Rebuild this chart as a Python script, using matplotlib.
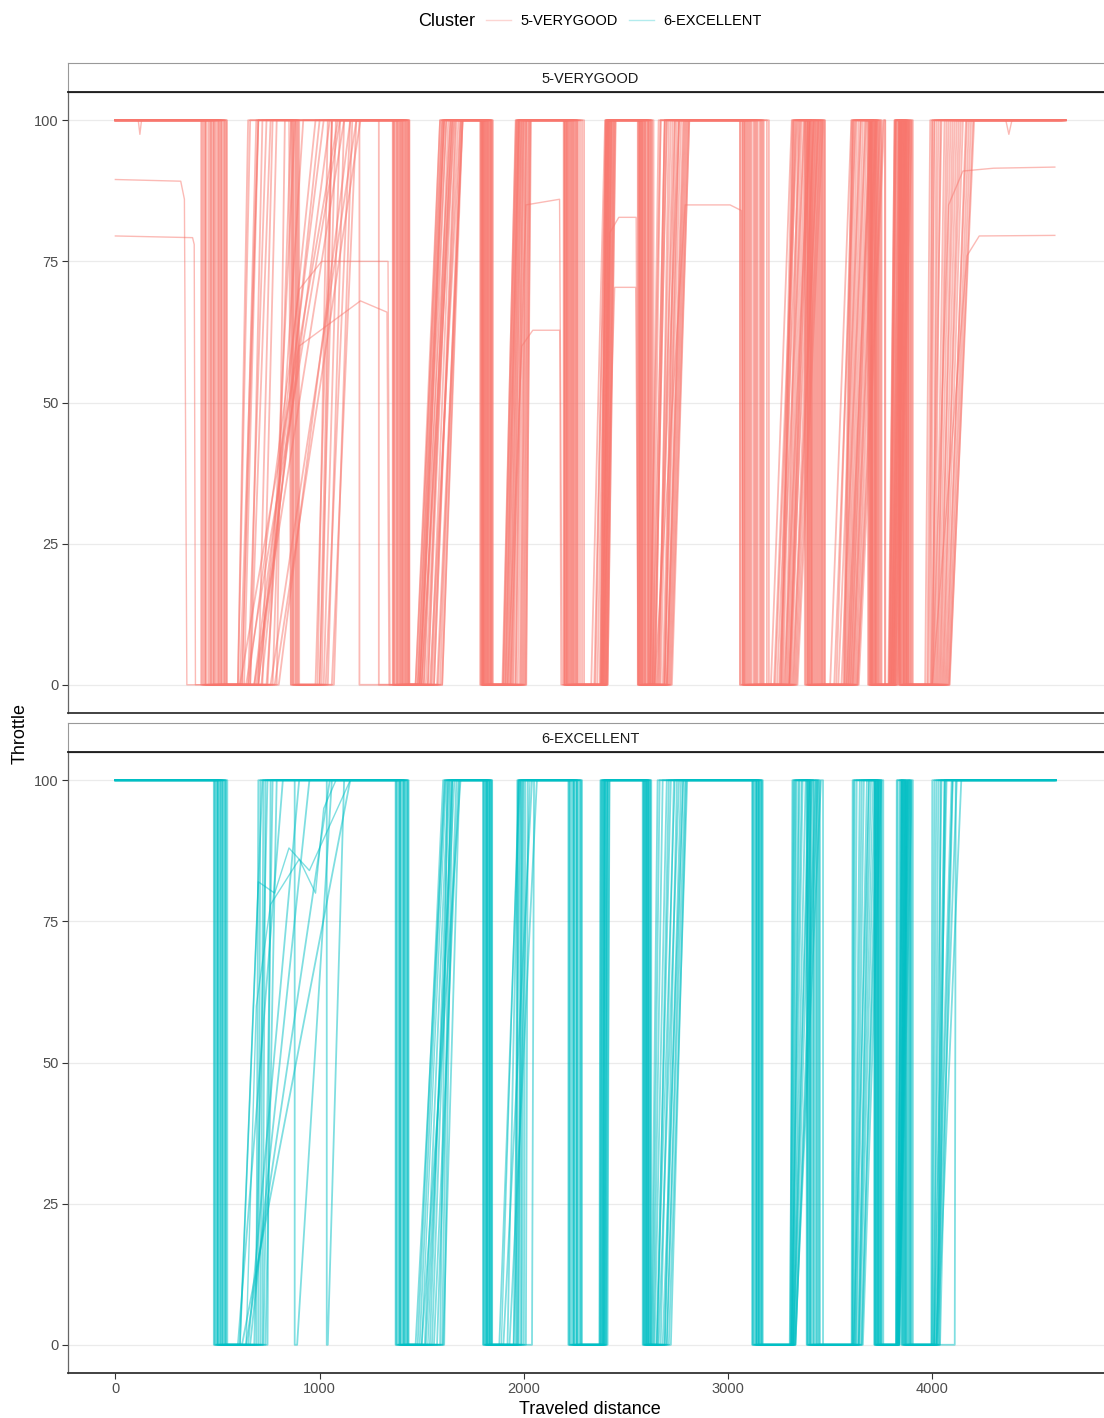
import matplotlib.pyplot as plt
from matplotlib.lines import Line2D

plt.rcParams['font.family'] = ['Liberation Sans', 'DejaVu Sans']

# cluster colours (ggplot hue palette)
clusters = ['5-VERYGOOD', '6-EXCELLENT']
colors = ['#F8766D', '#00BFC4']

# ---- 5-VERYGOOD laps: one row per braking zone, one column per lap ----
# zone order: T1, T1 chicane (None = lap skips it), T2 ... T9
vg_brake = [
    [420, 432, 445, 455, 462, 470, 478, 485, 492, 500, 508, 515, 522, 530, 538, 546, 426, 440, 468, 482, 505, 518, 534, 544],
    [860, None, 872, None, 880, None, None, None, 895, None, 865, None, None, None, None, None, 885, None, 870, None, 890, None, 900, None],
    [1360, 1372, 1380, 1390, 1398, 1405, 1412, 1420, 1428, 1436, 1365, 1385, 1402, 1418, 1432, 1440, 1358, 1195, 1378, 1394, 1408, 1290, 1425, 1438],
    [1790, 1798, 1805, 1812, 1820, 1828, 1835, 1842, 1848, 1795, 1808, 1816, 1824, 1832, 1840, 1802, 1786, 1793, 1800, 1810, 1826, 1838, 1846, 1818],
    [2195, 2205, 2212, 2220, 2228, 2235, 2242, 2250, 2258, 2265, 2200, 2215, 2230, 2245, 2255, 2208, 2198, 2222, 2238, 2262, 2275, 2285, 2295, 2210],
    [2560, 2568, 2575, 2582, 2590, 2598, 2605, 2612, 2620, 2628, 2565, 2578, 2592, 2608, 2618, 2572, 2558, 2570, 2585, 2595, 2610, 2625, 2635, 2580],
    [3060, 3075, 3085, 3095, 3105, 3115, 3125, 3135, 3145, 3155, 3165, 3175, 3070, 3100, 3130, 3160, 3058, 3080, 3110, 3140, 3170, 3190, 3200, 3090],
    [3385, 3395, 3405, 3415, 3425, 3440, 3450, 3460, 3472, 3390, 3410, 3435, 3455, 3400, 3420, 3468, 3376, 3400, 3410, 3430, 3445, 3462, 3475, 3380],
    [3690, 3700, 3705, 3712, 3720, 3728, 3735, 3752, 3768, 3695, 3710, 3725, 3742, 3702, 3718, 3738, 3685, 3698, 3706, 3722, 3730, 3748, 3770, 3692],
    [3835, 3845, 3855, 3862, 3870, 3878, 3885, 3895, 3905, 3840, 3858, 3875, 3892, 3848, 3866, 3882, 3838, 3850, 3860, 3868, 3874, 3884, 3900, 3842],
]
vg_pickup = [
    [600, 640, 610, 700, 650, 760, 620, 690, 720, 780, 660, 740, 800, 700, 770, 680, 630, 680, 600, 745, 660, 715, 790, 610],
    [1000, None, 1030, None, 1010, None, None, None, 1060, None, 990, None, None, None, None, None, 1040, None, 1020, None, 1070, None, 980, None],
    [1470, 1500, 1480, 1540, 1490, 1580, 1510, 1560, 1470, 1600, 1520, 1490, 1550, 1530, 1590, 1510, 1480, 1575, 1495, 1530, 1600, 1485, 1560, 1545],
    [1900, 1940, 1910, 1980, 1920, 2000, 1960, 1930, 2010, 1950, 1990, 1905, 1970, 1935, 2005, 1925, 1895, 1915, 1945, 1960, 1985, 1995, 2012, 1898],
    [2375, 2380, 2385, 2390, 2395, 2400, 2405, 2410, 2378, 2388, 2398, 2408, 2382, 2392, 2402, 2386, 2330, 2345, 2360, 2372, 2395, 2405, 2410, 2350],
    [2620, 2650, 2640, 2700, 2660, 2720, 2680, 2690, 2700, 2710, 2630, 2670, 2690, 2705, 2715, 2645, 2615, 2635, 2655, 2665, 2685, 2700, 2725, 2640],
    [3255, 3270, 3280, 3290, 3300, 3310, 3320, 3330, 3340, 3265, 3285, 3305, 3325, 3260, 3295, 3335, 3210, 3225, 3240, 3250, 3275, 3300, 3315, 3230],
    [3565, 3575, 3585, 3595, 3605, 3615, 3625, 3635, 3640, 3570, 3590, 3610, 3630, 3580, 3600, 3620, 3500, 3520, 3540, 3555, 3590, 3610, 3633, 3530],
    [3790, 3795, 3800, 3805, 3810, 3815, 3820, 3825, 3830, 3792, 3802, 3812, 3822, 3798, 3808, 3818, 3785, 3790, 3800, 3806, 3812, 3818, 3830, 3788],
    [3990, 4000, 4015, 4030, 4045, 4060, 4075, 4085, 4010, 4025, 4040, 4055, 4070, 4005, 4035, 4080, 3965, 3980, 3995, 4020, 4050, 4065, 4083, 3975],
]
vg_full = [
    [660, 1100, 700, 980, 740, 1180, 690, 1050, 790, 1200, 760, 920, 1150, 770, 860, 1020, 700, 1120, 650, 880, 720, 1000, 830, 1090],
    [1080, None, 1150, None, 1060, None, None, None, 1180, None, 1040, None, None, None, None, None, 1120, None, 1100, None, 1160, None, 1060, None],
    [1600, 1660, 1610, 1690, 1620, 1700, 1640, 1670, 1590, 1700, 1650, 1610, 1680, 1630, 1690, 1620, 1590, 1700, 1605, 1645, 1695, 1600, 1665, 1655],
    [1965, 1990, 1970, 2010, 1975, 2025, 2000, 1985, 2035, 1995, 2015, 1968, 2005, 1980, 2030, 1978, 1962, 1975, 1988, 1998, 2012, 2022, 2032, 1960],
    [2400, 2410, 2415, 2420, 2425, 2430, 2440, 2448, 2405, 2418, 2428, 2445, 2412, 2422, 2435, 2416, 2398, 2405, 2412, 2408, 2430, 2440, 2450, 2402],
    [2660, 2760, 2700, 2790, 2720, 2810, 2750, 2740, 2780, 2800, 2670, 2730, 2770, 2795, 2805, 2690, 2670, 2690, 2740, 2710, 2760, 2785, 2810, 2700],
    [3315, 3330, 3345, 3360, 3380, 3400, 3420, 3440, 3465, 3320, 3350, 3390, 3430, 3325, 3370, 3455, 3312, 3335, 3355, 3375, 3400, 3420, 3445, 3340],
    [3605, 3620, 3640, 3660, 3680, 3700, 3720, 3745, 3765, 3610, 3650, 3690, 3730, 3630, 3670, 3710, 3604, 3625, 3650, 3675, 3695, 3725, 3760, 3615],
    [3815, 3825, 3835, 3845, 3855, 3865, 3875, 3888, 3900, 3820, 3840, 3860, 3880, 3830, 3850, 3870, 3816, 3822, 3838, 3848, 3858, 3868, 3890, 3818],
    [4000, 4030, 4060, 4090, 4120, 4150, 4180, 4200, 4040, 4070, 4100, 4130, 4165, 4020, 4110, 4190, 3990, 4010, 4045, 4080, 4140, 4170, 4205, 4000],
]
vg_end = [4655, 4640, 4650, 4630, 4655, 4645, 4620, 4650, 4635, 4655, 4640, 4625, 4650, 4645, 4630, 4655,
          4645, 4655, 4630, 4650, 4640, 4655, 4635, 4650]

# laps with part-throttle stretches
vg_lap_a_x = [0, 320, 338, 350, 650, 900, 1010, 1335, 1345, 1490, 1640, 1795, 1803, 1935, 2010, 2175,
              2188, 2385, 2445, 2548, 2560, 2640, 2790, 3010, 3065, 3075, 3300, 3390, 3392, 3600, 3700,
              3715, 3720, 3810, 3850, 3870, 3875, 4000, 4080, 4150, 4300, 4600]
vg_lap_a_y = [89.5, 89.2, 86, 0, 0, 70, 75, 75, 0, 0, 100, 100, 0, 0, 85, 86,
              0, 0, 70.4, 70.4, 0, 0, 85, 85, 84, 0, 0, 100, 0, 0, 100,
              100, 0, 0, 100, 100, 0, 0, 85, 91, 91.5, 91.7]
vg_lap_b_x = [0, 378, 386, 392, 700, 900, 1200, 1330, 1340, 1500, 1650, 1790, 1796, 1920, 1990, 2044,
              2176, 2182, 2380, 2420, 2465, 2550, 2560, 2690, 2760, 3080, 3081, 3300, 3400, 3410, 3580,
              3700, 3710, 3800, 3850, 3860, 4000, 4170, 4230, 4600]
vg_lap_b_y = [79.5, 79.2, 78, 0, 0, 60, 68, 66, 0, 0, 100, 100, 0, 0, 60, 62.8,
              62.8, 0, 0, 80, 82.8, 82.8, 0, 0, 100, 100, 0, 0, 100, 0, 0,
              100, 0, 0, 100, 0, 0, 76, 79.5, 79.6]
vg_lap_c_x = [0, 112, 120, 128, 440, 440, 620, 700, 850, 858, 1000, 1060, 1365, 1365, 1500, 1610,
              1800, 1800, 1910, 1975, 2200, 2200, 2378, 2402, 2565, 2565, 2630, 2690, 3070, 3070, 3260,
              3320, 3390, 3390, 3570, 3612, 3700, 3700, 3795, 3822, 3842, 3842, 3995, 4010, 4360,
              4375, 4390, 4650]
vg_lap_c_y = [100, 100, 97.5, 100, 100, 0, 0, 100, 100, 0, 0, 100, 100, 0, 0, 100,
              100, 0, 0, 100, 100, 0, 0, 100, 100, 0, 0, 100, 100, 0, 0,
              100, 100, 0, 0, 100, 100, 0, 0, 100, 100, 0, 0, 100, 100,
              97.5, 100, 100]

# ---- 6-EXCELLENT laps ----
ex_brake = [
    [482, 490, 497, 505, 512, 520, 527, 535, 542, 548, 486, 502, 516, 538],
    [None, None, 878, None, None, None, None, 1035, None, None, None, None, None, None],
    [1372, 1380, 1388, 1395, 1402, 1410, 1418, 1425, 1432, 1436, 1375, 1392, 1415, 1430],
    [1800, 1806, 1812, 1818, 1824, 1830, 1836, 1840, 1845, 1815, 1803, 1821, 1834, 1843],
    [2218, 2225, 2232, 2240, 2248, 2256, 2264, 2272, 2280, 2285, 2222, 2244, 2260, 2278],
    [2582, 2588, 2594, 2600, 2606, 2612, 2618, 2624, 2590, 2604, 2585, 2597, 2610, 2620],
    [3118, 3124, 3130, 3136, 3142, 3148, 3154, 3160, 3166, 3170, 3121, 3139, 3151, 3163],
    [3385, 3395, 3405, 3420, 3435, 3450, 3390, 3412, 3465, 3400, 3388, 3402, 3430, 3445],
    [3716, 3722, 3728, 3734, 3740, 3746, 3752, 3760, 3720, 3731, 3718, 3726, 3738, 3750],
    [3850, 3856, 3862, 3878, 3892, 3905, 3860, 3870, 3884, 3898, 3852, 3866, 3874, 3888],
]
ex_pickup = [
    [690, 600, 720, 640, 700, 745, 660, 710, 735, 620, 610, 680, 725, 650],
    [None, None, 890, None, None, None, None, 1040, None, None, None, None, None, None],
    [1480, 1600, 1520, 1470, 1560, 1590, 1500, 1610, 1540, 1575, 1490, 1550, 1605, 1515],
    [1880, 1966, 1900, 1975, 1930, 2000, 1970, 1960, 2010, 1985, 1920, 1990, 2040, 1950],
    [2370, 2375, 2380, 2385, 2390, 2395, 2400, 2405, 2372, 2388, 2378, 2392, 2402, 2410],
    [2640, 2660, 2700, 2625, 2680, 2650, 2710, 2630, 2690, 2670, 2635, 2655, 2690, 2720],
    [3305, 3310, 3315, 3320, 3325, 3330, 3308, 3318, 3328, 3312, 3302, 3316, 3322, 3330],
    [3605, 3612, 3620, 3628, 3636, 3644, 3652, 3660, 3610, 3625, 3608, 3618, 3640, 3655],
    [3822, 3825, 3828, 3831, 3834, 3837, 3840, 3826, 3832, 3838, 3823, 3829, 3835, 3839],
    [3995, 4000, 4005, 4010, 4015, 4020, 4025, 4030, 4035, 4110, 3998, 4008, 4022, 4038],
]
ex_full = [
    [700, 820, 735, 1050, 710, 760, 950, 725, 790, 1150, 720, 745, 770, 900],
    [None, None, 1060, None, None, None, None, 1120, None, None, None, None, None, None],
    [1605, 1640, 1660, 1615, 1680, 1625, 1690, 1650, 1635, 1670, 1612, 1648, 1685, 1630],
    [1980, 1972, 2040, 1985, 2064, 2008, 1995, 1968, 2020, 1990, 1975, 2000, 2050, 1982],
    [2375, 2382, 2388, 2394, 2400, 2405, 2412, 2420, 2378, 2396, 2385, 2398, 2408, 2418],
    [2700, 2760, 2790, 2655, 2780, 2720, 2800, 2665, 2750, 2735, 2680, 2710, 2770, 2795],
    [3315, 3330, 3350, 3380, 3410, 3440, 3320, 3365, 3455, 3335, 3325, 3345, 3395, 3430],
    [3610, 3630, 3655, 3680, 3700, 3720, 3740, 3750, 3620, 3665, 3615, 3645, 3690, 3730],
    [3826, 3840, 3855, 3870, 3885, 3900, 3845, 3860, 3875, 3890, 3830, 3850, 3865, 3880],
    [4000, 4020, 4045, 4070, 4095, 4120, 4142, 4040, 4060, 4115, 4010, 4030, 4065, 4100],
]
ex_end = [4606, 4600, 4606, 4595, 4606, 4604, 4600, 4606, 4598, 4606, 4606, 4602, 4606, 4600]

ex_lap_a_x = [0, 500, 500, 610, 700, 780, 850, 950, 1050, 1150, 1395, 1395, 1500, 1620, 1820, 1820,
              1890, 1975, 2245, 2245, 2385, 2392, 2600, 2600, 2650, 2740, 3140, 3140, 3310, 3360,
              3420, 3420, 3615, 3690, 3735, 3735, 3828, 3850, 3870, 3870, 4010, 4060, 4600]
ex_lap_a_y = [100, 100, 0, 0, 82, 80, 88, 84, 92, 100, 100, 0, 0, 100, 100, 0,
              0, 100, 100, 0, 0, 100, 100, 0, 0, 100, 100, 0, 0, 100,
              100, 0, 0, 100, 100, 0, 0, 100, 100, 0, 0, 100, 100]
ex_lap_b_x = [0, 525, 525, 640, 690, 760, 900, 980, 1020, 1080, 1410, 1410, 1530, 1650, 1830, 1830,
              1950, 2030, 2260, 2260, 2395, 2410, 2610, 2610, 2700, 2780, 3150, 3150, 3320, 3400,
              3440, 3440, 3640, 3710, 3745, 3745, 3835, 3880, 3895, 3895, 4020, 4100, 4606]
ex_lap_b_y = [100, 100, 0, 0, 60, 78, 86, 80, 95, 100, 100, 0, 0, 100, 100, 0,
              0, 100, 100, 0, 0, 100, 100, 0, 0, 100, 100, 0, 0, 100,
              100, 0, 0, 100, 100, 0, 0, 100, 100, 0, 0, 100, 100]


def lap_points(brake, pickup, full, lap, end_x):
    xs, ys = [0], [100]
    for b_row, p_row, f_row in zip(brake, pickup, full):
        if b_row[lap] is None:
            continue
        xs += [b_row[lap], b_row[lap], p_row[lap], f_row[lap]]
        ys += [100, 0, 0, 100]
    xs.append(end_x)
    ys.append(100)
    return xs, ys


W, H = 1104, 1418
fig = plt.figure(figsize=(W / 100, H / 100), dpi=100)
fig.patch.set_facecolor('white')

left = 68 / W
width = 1112 / W - left
ax_top = fig.add_axes([left, 1 - 713 / H, width, 621 / H])
strip_top = fig.add_axes([left, 1 - 92 / H, width, 29 / H])
ax_bot = fig.add_axes([left, 1 - 1373 / H, width, 621 / H])
strip_bot = fig.add_axes([left, 1 - 752 / H, width, 29 / H])

lw, alpha = 1.3, 0.5

for i in range(len(vg_end)):
    xs, ys = lap_points(vg_brake, vg_pickup, vg_full, i, vg_end[i])
    ax_top.plot(xs, ys, color=colors[0], lw=lw, alpha=alpha)
for xs, ys in [(vg_lap_a_x, vg_lap_a_y), (vg_lap_b_x, vg_lap_b_y), (vg_lap_c_x, vg_lap_c_y)]:
    ax_top.plot(xs, ys, color=colors[0], lw=1.0, alpha=alpha)

for i in range(len(ex_end)):
    xs, ys = lap_points(ex_brake, ex_pickup, ex_full, i, ex_end[i])
    ax_bot.plot(xs, ys, color=colors[1], lw=lw, alpha=alpha)
for xs, ys in [(ex_lap_a_x, ex_lap_a_y), (ex_lap_b_x, ex_lap_b_y)]:
    ax_bot.plot(xs, ys, color=colors[1], lw=1.0, alpha=alpha)

for ax in (ax_top, ax_bot):
    ax.set_xlim(-232, 4880)
    ax.set_ylim(-5, 105)
    ax.set_yticks([0, 25, 50, 75, 100])
    ax.set_xticks([0, 1000, 2000, 3000, 4000])
    ax.yaxis.grid(True, color='#EBEBEB', lw=0.9)
    ax.set_axisbelow(True)
    ax.tick_params(axis='both', labelsize=10.5, labelcolor='#4D4D4D', color='#333333',
                   length=4, width=0.8, pad=2.5)
    for side in ('left', 'top', 'right'):
        ax.spines[side].set_color('#666666')
        ax.spines[side].set_linewidth(0.9)
    ax.spines['bottom'].set_color('#333333')
    ax.spines['bottom'].set_linewidth(1.3)
ax_top.tick_params(axis='x', bottom=False, labelbottom=False)

for strip, label in [(strip_top, clusters[0]), (strip_bot, clusters[1])]:
    strip.set_xticks([])
    strip.set_yticks([])
    strip.set_facecolor('white')
    for side in ('left', 'top', 'right'):
        strip.spines[side].set_color('#999999')
        strip.spines[side].set_linewidth(0.8)
    strip.spines['bottom'].set_color('#1a1a1a')
    strip.spines['bottom'].set_linewidth(1.3)
    strip.text(0.5, 0.45, label, transform=strip.transAxes, ha='center', va='center',
               fontsize=10.5, color='#1a1a1a')

fig.text(20 / W, 1 - 733 / H, 'Throttle', rotation=90, ha='center', va='center', fontsize=13)
fig.text(590 / W, 1 - 1409 / H, 'Traveled distance', ha='center', va='center', fontsize=13)

# legend across the top
fig.text(418 / W, 1 - 21 / H, 'Cluster', ha='left', va='center', fontsize=13)
handles = [Line2D([], [], color=c, lw=1.0, alpha=0.3) for c in colors]
fig.legend(handles, clusters, loc='center left', bbox_to_anchor=(486 / W, 1 - 21 / H), ncol=2,
           frameon=False, fontsize=10.5, handlelength=1.7, handletextpad=0.65, columnspacing=0.8,
           borderpad=0, borderaxespad=0)

fig.savefig('out.png', dpi=100)
